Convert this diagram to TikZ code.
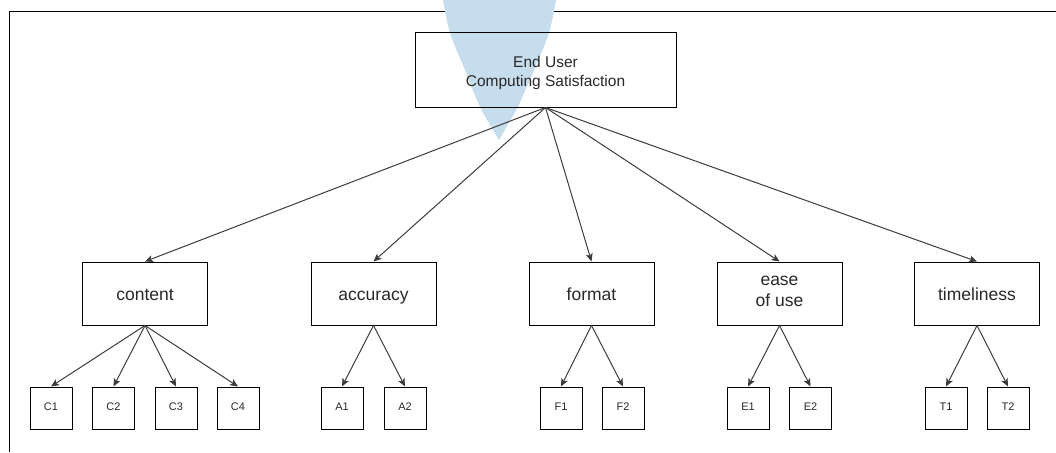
\documentclass[tikz,border=0pt]{standalone}
\usepackage{fontspec}
\setmainfont{Liberation Sans}
\usetikzlibrary{arrows.meta}

\definecolor{conefill}{RGB}{197,221,236}
\definecolor{edgegray}{RGB}{60,60,60}
\definecolor{textgray}{RGB}{40,40,40}

\newcommand{\headstrut}{\rule{0pt}{17pt}}

\begin{document}
\begin{tikzpicture}
	[x=1pt,y=-1pt,>={Stealth[length=8pt,width=7pt,inset=2pt]},
		base node/.style={rectangle,draw=black,line width=1pt,inner sep=0pt,align=center,text=textgray},
		top node/.style={base node,minimum width=261pt,minimum height=74pt,font=\fontsize{15.5}{19}\selectfont},
		mid node/.style={base node,minimum width=125pt,minimum height=63pt,font=\fontsize{17.5}{21}\selectfont,
			execute at begin node={\rule{0pt}{18pt}},execute at end node={\rule[-3.6pt]{0pt}{0pt}}},
		leaf node/.style={base node,minimum width=42pt,minimum height=42pt,font=\fontsize{11}{13}\selectfont,
			execute at begin node=\strut,execute at end node=\strut},
		link/.style={draw=edgegray,line width=1pt,->}]

	\useasboundingbox (0,0) rectangle (1056,452);
	\draw[line width=1pt] (9.5,452) -- (9.5,12) -- (1056,12);
	\fill[conefill] plot[smooth] coordinates {(443,0) (450,33) (465,70) (480,107) (499,140)}
		-- plot[smooth] coordinates {(518,107) (534,70) (549,33) (556,0)} -- cycle;

	\node[top node]    (EUCS)   at (545.5,70)  {\headstrut End User\\Computing Satisfaction};

	\node[mid node]    (C)      at (145,293.5)  {content};
	\node[mid node]    (A)      at (373.5,293.5)  {accuracy};
	\node[mid node]    (F)      at (591.5,293.5)  {format};
	\node[mid node]    (E)      at (779.5,293.5)  {ease\\of use};
	\node[mid node]    (T)      at (977,293.5)  {timeliness};

	\node[leaf node]    (C1)     at (51,408)  {C1};
	\node[leaf node]    (C2)     at (113.5,408)  {C2};
	\node[leaf node]    (C3)     at (176,408)  {C3};
	\node[leaf node]    (C4)     at (238,408)  {C4};
	\node[leaf node]    (A1)     at (342,408)  {A1};
	\node[leaf node]    (A2)     at (405,408)  {A2};
	\node[leaf node]    (F1)     at (561,408)  {F1};
	\node[leaf node]    (F2)     at (623,408)  {F2};
	\node[leaf node]    (E1)     at (748,408)  {E1};
	\node[leaf node]    (E2)     at (810.5,408)  {E2};
	\node[leaf node]    (T1)     at (946,408)  {T1};
	\node[leaf node]    (T2)     at (1008,408)  {T2};

	\path[every edge/.append style={link}]
	(EUCS.south) edge (C.north)
	(EUCS.south) edge (A.north)
	(EUCS.south) edge (F.north)
	(EUCS.south) edge (E.north)
	(EUCS.south) edge (T.north)
	(C.south) edge (C1.north)
	(C.south) edge (C2.north)
	(C.south) edge (C3.north)
	(C.south) edge (C4.north)
	(A.south) edge (A1.north)
	(A.south) edge (A2.north)
	(F.south) edge (F1.north)
	(F.south) edge (F2.north)
	(E.south) edge (E1.north)
	(E.south) edge (E2.north)
	(T.south) edge (T1.north)
	(T.south) edge (T2.north)
	;

\end{tikzpicture}
\end{document}
